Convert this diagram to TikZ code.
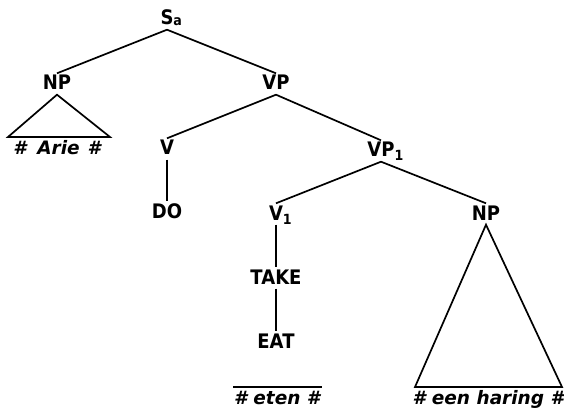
\documentclass[tikz,border=0pt]{standalone}
\usepackage{graphicx}
\usepackage{fontspec}
\newfontfamily\labfont{DejaVu Sans}
\newcommand{\lbl}[1]{\scalebox{0.9}[1]{#1}}
\newcommand{\sbs}[2]{\rlap{\fontsize{14}{14}\selectfont\raisebox{#1}{#2}}}
\begin{document}
\begin{tikzpicture}[x=1pt,y=-1pt,
  lab/.style={font=\labfont\bfseries\fontsize{20}{20}\selectfont, anchor=base, inner sep=2.5pt, text height=14pt, text depth=2pt},
  leaf/.style={font=\labfont\bfseries\itshape\fontsize{18.5}{18.5}\selectfont, anchor=base, inner sep=0pt},
  edge/.style={line width=1.7pt}]
\useasboundingbox (0,0) rectangle (564,414);
% labels
\node[lab] (S) at (167,25) {\lbl{S\sbs{-1pt}{a}}};
\node[lab] (NPa) at (57,90) {\lbl{NP}};
\node[lab] (VP) at (276,90) {\lbl{VP}};
\node[lab] (V) at (167,155) {\lbl{V}};
\node[lab] (DO) at (167,218) {\lbl{DO}};
\node[lab] (VPone) at (381,157) {\lbl{VP\sbs{-4pt}{1}}};
\node[lab] (Vone) at (276,220) {\lbl{V\sbs{-4pt}{1}}};
\node[lab] (NPb) at (486,220) {\lbl{NP}};
\node[lab] (TAKE) at (276,284) {\lbl{TAKE}};
\node[lab] (EAT) at (276,348) {\lbl{EAT}};
% leaves
\node[leaf] (arie) at (57,155) {\#\hspace{11pt}Arie\hspace{8pt}\#};
\node[leaf] (eten) at (277,404) {\# eten \#};
\node[leaf] (haring) at (488,404) {\# een haring \#};
% corner coordinates
\coordinate (ta1) at (8,137);
\coordinate (ta2) at (110,137);
\coordinate (tb1) at (415,387);
\coordinate (tb2) at (562,387);
\coordinate (e1) at (233,387);
\coordinate (e2) at (322,387);
% edges
\draw[edge] (S.south) -- (NPa.north);
\draw[edge] (S.south) -- (VP.north);
\draw[edge] (VP.south) -- (V.north);
\draw[edge] (VP.south) -- (VPone.north);
\draw[edge] (V.south) -- (DO.north);
\draw[edge] (VPone.south) -- (Vone.north);
\draw[edge] (VPone.south) -- (NPb.north);
\draw[edge] (Vone.south) -- (TAKE.north);
\draw[edge] (TAKE.south) -- (EAT.north);
\draw[edge, line join=miter] (NPa.south) -- (ta1) -- (ta2) -- cycle;
\draw[edge, line join=miter] (NPb.south) -- (tb1) -- (tb2) -- cycle;
\draw[edge] (e1) -- (e2);
\end{tikzpicture}
\end{document}
